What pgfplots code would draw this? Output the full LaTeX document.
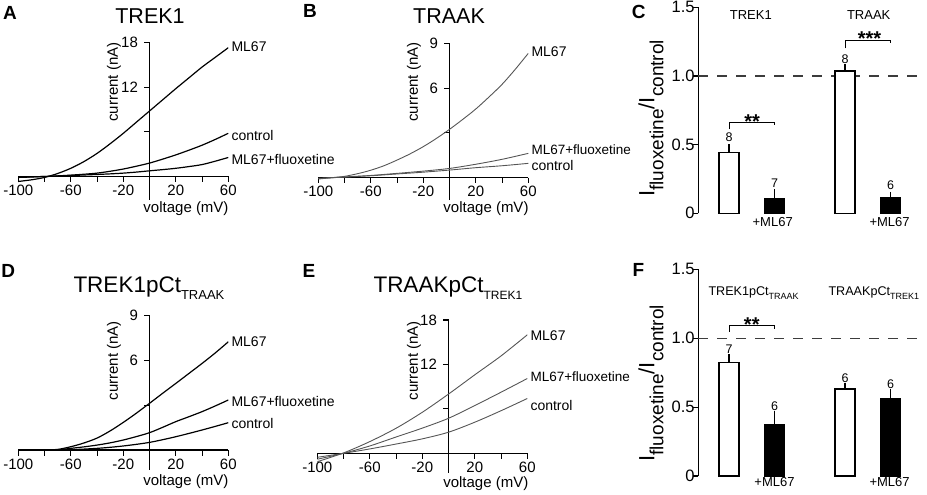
\documentclass[border=0pt]{standalone}
\usepackage{fontspec}
\setmainfont{Liberation Sans}
\usepackage{pgfplots}
\pgfplotsset{compat=1.18}
\newcommand{\fs}[1]{\fontsize{#1}{#1}\selectfont}
\definecolor{crv}{RGB}{85,85,85}
\definecolor{dsh}{RGB}{60,60,60}
\pgfplotsset{
 ivaxis/.style={
  scale only axis, anchor=south west,
  axis lines=middle, axis line style={-, line width=1.1pt, black},
  xmin=-100, xmax=60, width=210pt,
  xtick={-100,-60,-20,20,60}, xticklabels={-100,-60,-20,20,60},
  major tick length=0pt,
  tick label style={font=\fs{15}, inner sep=0pt},
  xticklabel style={anchor=north, yshift=-8.5pt}, yticklabel style={anchor=east, xshift=-11.5pt},
  clip mode=individual,
  /pgf/number format/assume math mode=true,
 },
 crvA/.style={black, line width=1.2pt, smooth, no markers},
 crvB/.style={crv, line width=0.9pt, smooth, no markers},
 xtk/.style={only marks, mark=|, mark size=2.75pt, mark options={black, line width=1.1pt}, forget plot},
 ytk/.style={only marks, mark=-, mark size=2.75pt, mark options={black, line width=1.1pt}, forget plot},
 baraxis/.style={
  scale only axis, anchor=south west,
  xmin=-0.675, xmax=4.13, width=218.6pt, ymin=0, ymax=1.5,
  axis x line=none, axis y line*=left, axis line style={-, line width=1.1pt, black},
  xtick=\empty,
  ytick={0,0.5,1,1.5}, yticklabels={0,0.5,1.0,1.5},
  major tick length=0pt,
  tick label style={font=\fs{16.5}, inner sep=0pt},
  yticklabel style={anchor=east, xshift=-3.5pt},
  clip=false,
  /pgf/number format/assume math mode=true,
 },
 wbar/.style={ybar, bar width=20pt, bar shift=0pt, fill=white, draw=black, line width=1.1pt,
   error bars/.cd, y dir=plus, y explicit, error bar style={line width=1.1pt, black},
   error mark options={black, mark size=2.5pt, line width=1.1pt}},
 bbar/.style={ybar, bar width=20pt, bar shift=0pt, fill=black, draw=black, line width=1.1pt,
   error bars/.cd, y dir=plus, y explicit, error bar style={line width=1.1pt, black},
   error mark options={black, mark size=2.5pt, line width=1.1pt}},
 brk/.style={black, line width=1pt, no markers},
 dline/.style={dsh, line width=1.1pt, dash pattern=on 10pt off 9pt, no markers},
}
\begin{document}
\begin{tikzpicture}
% ---------- A ----------
\begin{axis}[ivaxis, at={(18.3pt,295pt)}, ymin=-3.16, ymax=18, height=157.5pt,
  ytick={12,18}, yticklabels={12,18}]
\addplot[xtk] coordinates {(-100,-0.3695) (-80,-0.3695) (-60,-0.3695) (-40,-0.3695) (-20,-0.3695) (20,-0.3695) (40,-0.3695) (60,-0.3695)};
\addplot[ytk] coordinates {(-2.095,6) (-2.095,12) (-2.095,18)};
\addplot[crvA] coordinates {(-100,-0.67) (-90,-0.45) (-80,-0.13) (-70,0.4) (-60,1.1) (-50,2.0) (-40,3.1) (-30,4.4) (-20,5.8) (-10,7.3) (0,8.8) (10,10.3) (20,11.8) (30,13.25) (40,14.7) (50,16.0) (60,17.3)};
\addplot[crvA] coordinates {(-100,-0.13) (-90,-0.07) (-80,0) (-70,0.08) (-60,0.18) (-50,0.3) (-40,0.45) (-30,0.7) (-20,1.0) (-10,1.38) (0,1.8) (10,2.33) (20,2.9) (30,3.53) (40,4.2) (50,4.97) (60,5.8)};
\addplot[crvA] coordinates {(-100,-0.1) (-90,-0.05) (-80,0) (-70,0.06) (-60,0.13) (-50,0.2) (-40,0.27) (-30,0.35) (-20,0.45) (-10,0.59) (0,0.76) (10,0.92) (20,1.1) (30,1.33) (40,1.6) (50,2.05) (60,2.55)};
\node[anchor=west, font=\fs{14}, inner sep=0pt] at (axis cs:62.3,17.4) {ML67};
\node[anchor=west, font=\fs{14}, inner sep=0pt] at (axis cs:62.3,5.57) {control};
\node[anchor=west, font=\fs{14}, inner sep=0pt] at (axis cs:62.3,2.3) {ML67+fluoxetine};
\end{axis}
% ---------- B ----------
\begin{axis}[ivaxis, at={(318.3pt,294.9pt)}, ymin=-1.5, ymax=9, height=156.8pt,
  ytick={6,9}, yticklabels={6,9}]
\addplot[xtk] coordinates {(-100,-0.184) (-80,-0.184) (-60,-0.184) (-40,-0.184) (-20,-0.184) (20,-0.184) (40,-0.184) (60,-0.184)};
\addplot[ytk] coordinates {(-2.095,3) (-2.095,6) (-2.095,9)};
\addplot[crvB] coordinates {(-100,-0.09) (-90,0) (-80,0.09) (-70,0.27) (-60,0.5) (-50,0.8) (-40,1.18) (-30,1.6) (-20,2.08) (-10,2.63) (0,3.24) (10,3.9) (20,4.6) (30,5.4) (40,6.25) (50,7.25) (60,8.33)};
\addplot[crvB] coordinates {(-100,-0.05) (-80,0.05) (-60,0.15) (-40,0.29) (-20,0.44) (0,0.62) (20,0.9) (40,1.23) (60,1.63)};
\addplot[crvB] coordinates {(-100,-0.05) (-80,0.04) (-60,0.13) (-40,0.25) (-20,0.37) (0,0.51) (20,0.67) (40,0.8) (60,0.96)};
\node[anchor=west, font=\fs{14}, inner sep=0pt] at (axis cs:62.3,8.44) {ML67};
\node[anchor=west, font=\fs{13.5}, inner sep=0pt] at (axis cs:62.3,1.86) {ML67+fluoxetine};
\node[anchor=west, font=\fs{14}, inner sep=0pt] at (axis cs:62.3,0.85) {control};
\end{axis}
% ---------- D ----------
\begin{axis}[ivaxis, at={(18.3pt,25pt)}, ymin=-1.34, ymax=9, height=154.3pt,
  ytick={6,9}, yticklabels={6,9}]
\addplot[xtk] coordinates {(-100,-0.1845) (-80,-0.1845) (-60,-0.1845) (-40,-0.1845) (-20,-0.1845) (20,-0.1845) (40,-0.1845) (60,-0.1845)};
\addplot[ytk] coordinates {(-2.095,3) (-2.095,6) (-2.095,9)};
\addplot[crvA] coordinates {(-100,0) (-90,0) (-80,0) (-70,0.04) (-60,0.22) (-50,0.47) (-40,0.8) (-30,1.28) (-20,1.85) (-10,2.47) (0,3.13) (10,3.8) (20,4.46) (30,5.13) (40,5.8) (50,6.5) (60,7.25)};
\addplot[crvA] coordinates {(-100,0) (-90,0) (-80,0) (-70,0.01) (-60,0.11) (-50,0.21) (-40,0.33) (-30,0.48) (-20,0.67) (-10,0.9) (0,1.16) (10,1.52) (20,1.9) (30,2.23) (40,2.57) (50,2.95) (60,3.35)};
\addplot[crvA] coordinates {(-100,0) (-90,0) (-80,0) (-70,0) (-60,0.02) (-50,0.06) (-40,0.11) (-30,0.18) (-20,0.27) (-10,0.38) (0,0.51) (10,0.69) (20,0.89) (30,1.11) (40,1.34) (50,1.58) (60,1.83)};
\node[anchor=west, font=\fs{14}, inner sep=0pt] at (axis cs:62.3,7.26) {ML67};
\node[anchor=west, font=\fs{14}, inner sep=0pt] at (axis cs:62.3,3.24) {ML67+fluoxetine};
\node[anchor=west, font=\fs{14}, inner sep=0pt] at (axis cs:62.3,1.79) {control};
\end{axis}
% ---------- E ----------
\begin{axis}[ivaxis, at={(317.3pt,22pt)}, ymin=-2.66, ymax=18, height=153pt,
  ytick={12,18}, yticklabels={12,18}]
\addplot[xtk] coordinates {(-100,-0.3715) (-80,-0.3715) (-60,-0.3715) (-40,-0.3715) (-20,-0.3715) (20,-0.3715) (40,-0.3715) (60,-0.3715)};
\addplot[ytk] coordinates {(-2.095,6) (-2.095,12) (-2.095,18)};
\addplot[crvB] coordinates {(-100,-1.13) (-80,0.05) (-60,1.58) (-40,3.38) (-20,5.54) (0,8.0) (20,10.6) (40,13.15) (60,16.0)};
\addplot[crvB] coordinates {(-100,-0.8) (-80,0) (-60,0.99) (-40,2.2) (-20,3.4) (0,4.73) (20,6.45) (40,8.25) (60,10.1)};
\addplot[crvB] coordinates {(-100,-0.54) (-80,0) (-60,0.59) (-40,1.25) (-20,1.95) (0,2.85) (20,4.2) (40,5.75) (60,7.4)};
\node[anchor=west, font=\fs{14}, inner sep=0pt] at (axis cs:62.3,15.84) {ML67};
\node[anchor=west, font=\fs{13.5}, inner sep=0pt] at (axis cs:62.3,10.34) {ML67+fluoxetine};
\node[anchor=west, font=\fs{14}, inner sep=0pt] at (axis cs:62.3,6.52) {control};
\end{axis}
% ---------- C ----------
\begin{axis}[baraxis, at={(698.3pt,281.7pt)}, height=206pt]
\addplot[ytk] coordinates {(-0.7355,0) (-0.7355,0.5) (-0.7355,1) (-0.7355,1.5)};
\addplot[dline] coordinates {(-0.675,1) (4.13,1)};
\addplot[wbar] coordinates {(0,0.444) +- (0,0.041) (2.55,1.036) +- (0,0.03)};
\addplot[bbar] coordinates {(1,0.109) +- (0,0.049) (3.55,0.117) +- (0,0.02)};
\addplot[brk] coordinates {(0,0.612) (0,0.663) (1,0.663) (1,0.643)};
\addplot[brk] coordinates {(2.55,1.20) (2.55,1.255) (3.55,1.255) (3.55,1.243)};
\node[anchor=base, font=\fs{12.5}] at (axis cs:0,0.524) {8};
\node[anchor=base, font=\fs{12.5}] at (axis cs:1,0.189) {7};
\node[anchor=base, font=\fs{12.5}] at (axis cs:2.55,1.09) {8};
\node[anchor=base, font=\fs{12.5}] at (axis cs:3.55,0.172) {6};
\node[anchor=base, font=\bfseries\fs{20}, inner sep=0pt] at (axis cs:0.51,0.621) {**};
\node[anchor=base, font=\bfseries\fs{20}, inner sep=0pt] at (axis cs:3.09,1.22) {***};
\node[anchor=base, font=\fs{13}] at (axis cs:0.96,-0.095) {+ML67};
\node[anchor=base, font=\fs{13}] at (axis cs:3.53,-0.095) {+ML67};
\node[anchor=base, font=\fs{13}, inner sep=0pt] at (axis cs:0.48,1.41) {TREK1};
\node[anchor=base, font=\fs{13}, inner sep=0pt] at (axis cs:3.07,1.41) {TRAAK};
\end{axis}
% ---------- F ----------
\begin{axis}[baraxis, at={(698.3pt,19pt)}, height=206.7pt]
\addplot[ytk] coordinates {(-0.7355,0) (-0.7355,0.5) (-0.7355,1) (-0.7355,1.5)};
\addplot[dline] coordinates {(-0.675,1) (4.13,1)};
\addplot[wbar] coordinates {(0,0.822) +- (0,0.044) (2.55,0.631) +- (0,0.029)};
\addplot[bbar] coordinates {(1,0.37) +- (0,0.085) (3.55,0.564) +- (0,0.048)};
\addplot[brk] coordinates {(0,1.047) (0,1.091) (1,1.091) (1,1.07)};
\node[anchor=base, font=\fs{12.5}] at (axis cs:0,0.888) {7};
\node[anchor=base, font=\fs{12.5}] at (axis cs:1,0.474) {6};
\node[anchor=base, font=\fs{12.5}] at (axis cs:2.55,0.68) {6};
\node[anchor=base, font=\fs{12.5}] at (axis cs:3.55,0.634) {6};
\node[anchor=base, font=\bfseries\fs{20}, inner sep=0pt] at (axis cs:0.5,1.049) {**};
\node[anchor=base, font=\fs{13}] at (axis cs:1.0,-0.075) {+ML67};
\node[anchor=base, font=\fs{13}] at (axis cs:3.53,-0.075) {+ML67};
\end{axis}
% ---------- texts ----------
\node[font=\bfseries\fs{19}] at (10pt,482.5pt) {A};
\node[font=\bfseries\fs{19}] at (310pt,484pt) {B};
\node[font=\bfseries\fs{19}] at (638.7pt,483pt) {C};
\node[font=\bfseries\fs{19}] at (8.3pt,224.2pt) {D};
\node[font=\bfseries\fs{19}] at (309pt,224.2pt) {E};
\node[font=\bfseries\fs{19}] at (638.3pt,225.3pt) {F};
\node[anchor=base, font=\fs{21.5}, inner sep=0pt] at (150pt,471pt) {TREK1};
\node[anchor=base, font=\fs{21.5}, inner sep=0pt] at (449pt,471pt) {TRAAK};
\node[anchor=base west, font=\fs{22.5}, inner sep=0pt] at (73.3pt,202.3pt) {TREK1pCt\raisebox{-7pt}{\fs{13}TRAAK}};
\node[anchor=base west, font=\fs{22.5}, inner sep=0pt] at (373.3pt,202.3pt) {TRAAKpCt\raisebox{-7pt}{\fs{12}TREK1}};
\node[rotate=90, font=\fs{15}, inner sep=0pt] at (114pt,413pt) {current (nA)};
\node[rotate=90, font=\fs{15}, inner sep=0pt] at (414pt,413pt) {current (nA)};
\node[rotate=90, font=\fs{15}, inner sep=0pt] at (114pt,134.2pt) {current (nA)};
\node[rotate=90, font=\fs{15}, inner sep=0pt] at (414pt,134.2pt) {current (nA)};
\node[font=\fs{15}, inner sep=0pt] at (186pt,286.5pt) {voltage (mV)};
\node[font=\fs{15}, inner sep=0pt] at (486pt,286.5pt) {voltage (mV)};
\node[font=\fs{15}, inner sep=0pt] at (185.8pt,13.5pt) {voltage (mV)};
\node[font=\fs{15}, inner sep=0pt] at (485.8pt,11pt) {voltage (mV)};
\node[rotate=90] at (651pt,376.7pt) {{\fs{22}I}\raisebox{-9pt}{\fs{19}fluoxetine}{\fs{22}/I}\raisebox{-9pt}{\fs{19}control}};
\node[rotate=90] at (651pt,111.7pt) {{\fs{22}I}\raisebox{-9pt}{\fs{19}fluoxetine}{\fs{22}/I}\raisebox{-9pt}{\fs{19}control}};
\node[anchor=base west, font=\fs{12.6}, inner sep=0pt] at (708.3pt,199.3pt) {TREK1pCt\raisebox{-4pt}{\fs{9}TRAAK}};
\node[anchor=base west, font=\fs{12.6}, inner sep=0pt] at (828.3pt,199.3pt) {TRAAKpCt\raisebox{-4pt}{\fs{9}TREK1}};
\pgfresetboundingbox
\useasboundingbox (0,0) rectangle (927pt,495pt);
\end{tikzpicture}
\end{document}
